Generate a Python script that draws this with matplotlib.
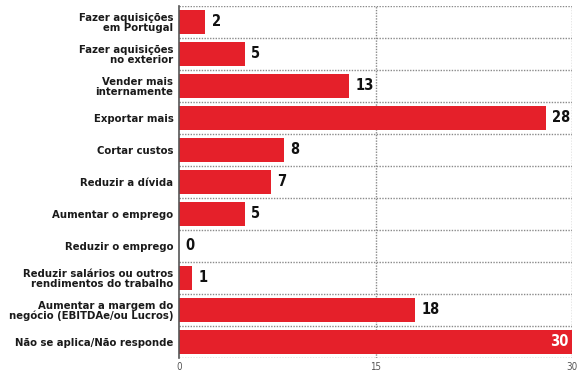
import matplotlib
matplotlib.use("Agg")
import matplotlib.pyplot as plt
import numpy as np

categories = [
    "Fazer aquisições\nem Portugal",
    "Fazer aquisições\nno exterior",
    "Vender mais\ninternamente",
    "Exportar mais",
    "Cortar custos",
    "Reduzir a dívida",
    "Aumentar o emprego",
    "Reduzir o emprego",
    "Reduzir salários ou outros\nrendimentos do trabalho",
    "Aumentar a margem do\nnegócio (EBITDAe/ou Lucros)",
    "Não se aplica/Não responde",
]
values = [2, 5, 13, 28, 8, 7, 5, 0, 1, 18, 30]
xticks = [0, 15, 30]

plt.rcParams["font.family"] = ["DejaVu Sans"]
plt.rcParams["font.stretch"] = "condensed"

red = "#e5202a"
fig = plt.figure(figsize=(5.88, 3.72), dpi=100)
ax = fig.add_axes([179 / 588, 1 - 358 / 372, (572 - 179) / 588, (358 - 6) / 372])

y = np.arange(len(categories))
ax.barh(y, values, height=0.74, color=red, zorder=2)
ax.set_xlim(0, 30)
ax.set_ylim(len(categories) - 0.5, -0.5)

# dotted row separators and vertical guides
for b in np.arange(-0.5, len(categories), 1.0):
    ax.axhline(b, color="#8a8a8a", lw=1.0, ls=(0, (1, 1)), zorder=1)
for xv in [15, 30]:
    ax.axvline(xv, color="#8a8a8a", lw=1.0, ls=(0, (1, 1)), zorder=1)

for s in ["top", "right", "bottom"]:
    ax.spines[s].set_visible(False)
ax.spines["left"].set_color("#555555")
ax.spines["left"].set_linewidth(1.2)

ax.set_yticks(y)
ax.set_yticklabels(categories, fontsize=8.1, fontweight="bold", color="#1a1a1a",
                   linespacing=0.95, fontstretch="condensed")
ax.tick_params(axis="y", length=0, pad=4)
ax.set_xticks(xticks)
ax.set_xticklabels([str(t) for t in xticks], fontsize=7, color="#555555")
ax.tick_params(axis="x", length=0, pad=3)

for yi, v in zip(y, values):
    if v >= 29:
        ax.text(v - 0.3, yi, str(v), ha="right", va="center", color="white",
                fontsize=10.5, fontweight="bold", fontstretch="condensed", zorder=3)
    else:
        ax.text(v + 0.5, yi, str(v), ha="left", va="center", color="#111111",
                fontsize=10.5, fontweight="bold", fontstretch="condensed", zorder=3)

fig.savefig("out.png", dpi=100)
